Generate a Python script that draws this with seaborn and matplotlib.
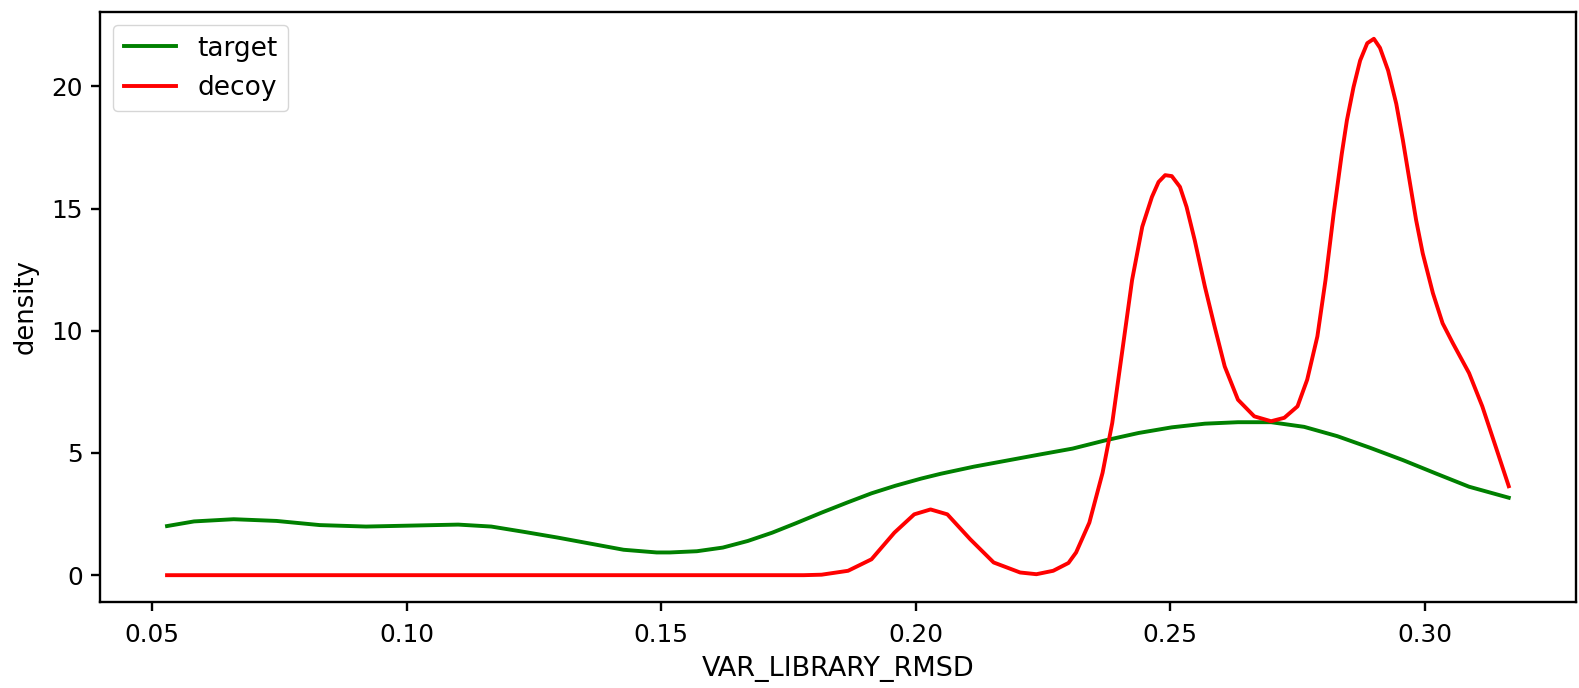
import numpy as np
import pandas as pd
import seaborn as sns
import matplotlib
matplotlib.use("Agg")
import matplotlib.pyplot as plt

# density curves
target_x = [0.0529, 0.0582, 0.0660, 0.0744, 0.0829, 0.0920, 0.1010, 0.1101, 0.1166,
            0.1231, 0.1296, 0.1361, 0.1426, 0.1491, 0.1517, 0.1570, 0.1621, 0.1670,
            0.1718, 0.1765, 0.1815, 0.1865, 0.1913, 0.1960, 0.2010, 0.2049, 0.2114,
            0.2179, 0.2244, 0.2308, 0.2373, 0.2438, 0.2503, 0.2568, 0.2633, 0.2698,
            0.2763, 0.2828, 0.2893, 0.2957, 0.3022, 0.3087, 0.3165]
target_y = [2.01, 2.20, 2.29, 2.22, 2.05, 1.99, 2.03, 2.07, 1.99,
            1.77, 1.54, 1.29, 1.04, 0.93, 0.93, 0.98, 1.13, 1.40,
            1.74, 2.13, 2.56, 2.97, 3.35, 3.66, 3.95, 4.15, 4.44,
            4.69, 4.94, 5.18, 5.52, 5.82, 6.05, 6.20, 6.26, 6.26,
            6.07, 5.69, 5.21, 4.71, 4.16, 3.62, 3.17]

decoy_x = [0.0529, 0.1000, 0.1500, 0.1780, 0.1815, 0.1867, 0.1913, 0.1958, 0.1997,
           0.2029, 0.2062, 0.2107, 0.2153, 0.2205, 0.2237, 0.2270, 0.2300, 0.2315,
           0.2341, 0.2367, 0.2386, 0.2406, 0.2425, 0.2445, 0.2464, 0.2477, 0.2490,
           0.2503, 0.2519, 0.2532, 0.2548, 0.2568, 0.2587, 0.2607, 0.2633, 0.2665,
           0.2698, 0.2724, 0.2750, 0.2769, 0.2789, 0.2805, 0.2821, 0.2837, 0.2847,
           0.2860, 0.2873, 0.2887, 0.2900, 0.2912, 0.2928, 0.2944, 0.2957, 0.2970,
           0.2983, 0.2996, 0.3016, 0.3035, 0.3055, 0.3087, 0.3113, 0.3139, 0.3165]
decoy_y = [0.0, 0.0, 0.0, 0.0, 0.02, 0.18, 0.65, 1.74, 2.49,
           2.69, 2.49, 1.47, 0.52, 0.11, 0.04, 0.18, 0.50, 0.93,
           2.15, 4.19, 6.23, 9.22, 12.08, 14.26, 15.48, 16.09, 16.37,
           16.33, 15.89, 15.07, 13.71, 11.81, 10.18, 8.54, 7.18, 6.50,
           6.30, 6.44, 6.91, 8.00, 9.77, 12.08, 14.80, 17.25, 18.61,
           19.97, 21.06, 21.77, 21.95, 21.58, 20.65, 19.29, 17.80, 16.16,
           14.53, 13.17, 11.54, 10.31, 9.50, 8.27, 6.91, 5.28, 3.64]

df = pd.concat([
    pd.DataFrame({"VAR_LIBRARY_RMSD": target_x, "density": target_y, "label": "target"}),
    pd.DataFrame({"VAR_LIBRARY_RMSD": decoy_x, "density": decoy_y, "label": "decoy"}),
], ignore_index=True)

plt.rcParams["font.family"] = ["DejaVu Sans"]

fig = plt.figure(figsize=(15.79, 6.88), dpi=100)
ax = fig.add_axes([0.0633, 0.125, 0.9347, 0.8576])

sns.lineplot(data=df, x="VAR_LIBRARY_RMSD", y="density", hue="label",
             palette={"target": "green", "decoy": "red"},
             estimator=None, sort=False, linewidth=2.8, ax=ax)

ax.set_xticks([0.05, 0.10, 0.15, 0.20, 0.25, 0.30])
ax.set_xticklabels(["0.05", "0.10", "0.15", "0.20", "0.25", "0.30"])
ax.set_yticks([0, 5, 10, 15, 20])
ax.margins(x=0.05, y=0.05)
ax.tick_params(labelsize=17.8, width=1.7, length=6.3)
ax.tick_params(axis="x", pad=9)
ax.tick_params(axis="y", pad=6)
for s in ax.spines.values():
    s.set_linewidth(1.7)
ax.set_xlabel("VAR_LIBRARY_RMSD", fontsize=19.5, labelpad=6)
ax.set_ylabel("density", fontsize=18.6, labelpad=9)
leg = ax.legend(loc="upper left", fontsize=19, title=None)
for line in leg.get_lines():
    line.set_linewidth(2.8)

fig.savefig("out.png", dpi=100)
